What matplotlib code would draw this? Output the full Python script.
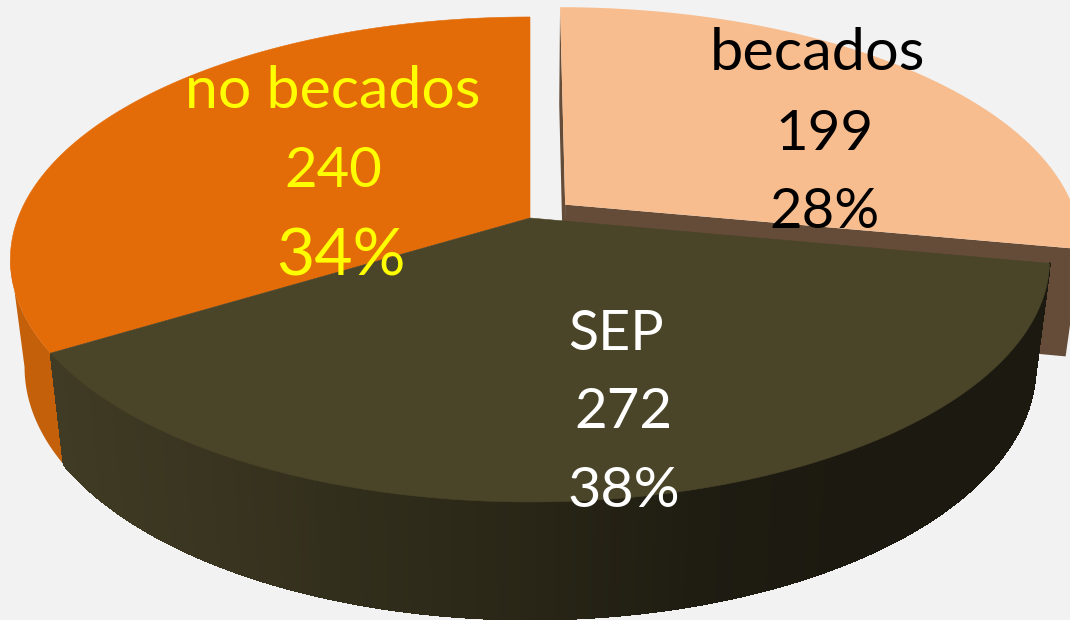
import numpy as np
import matplotlib
matplotlib.use("Agg")
import matplotlib.pyplot as plt
from matplotlib.collections import PolyCollection, LineCollection
from matplotlib.colors import to_rgb

categories = ["becados", "SEP", "no becados"]
values = [199, 272, 240]
percent_labels = ["28%", "38%", "34%"]

BG = "#f2f2f2"
TOP_COLORS = {"becados": "#f8bd8e", "SEP": "#4a4528", "no becados": "#e36c09"}
TEXT_COLORS = {"becados": "#000000", "SEP": "#ffffff", "no becados": "#ffff00"}

# perspective of the pie: k = foreshortening, (x0, y0, A, B) = top and bottom disc
K = 0.171
X0 = 530
TOP_DISC = dict(y0=218, A=512, B=235.4)
BOTTOM_DISC = dict(y0=324, A=498, B=245)
EXPLODE = 0.09
# the wall is seen up to the leftmost point of the projected disc
LAST_VISIBLE_WALL = 2 * np.pi - np.arccos(-K)


def project(theta, r, disc, dx=0.0, dy=0.0):
    X = r * np.sin(theta) + dx
    Y = r * np.cos(theta) + dy
    w = 1 + K * Y
    return np.column_stack([X0 + disc["A"] * X / w, disc["y0"] - disc["B"] * Y / w])


def lerp_grad(u, stops, colors):
    rgb = np.array([to_rgb(c) for c in colors])
    return np.column_stack([np.interp(u, stops, rgb[:, i]) for i in range(3)])


def wall_edges(t0, t1):
    hi = min(t1, LAST_VISIBLE_WALL)
    th = np.linspace(t0, hi, 260)
    return project(th, 1, TOP_DISC), project(th, 1, BOTTOM_DISC)


def solid_wall(ax, t0, t1, color, z):
    top, bot = wall_edges(t0, t1)
    pts = np.vstack([top, bot[::-1]])
    ax.fill(pts[:, 0], pts[:, 1], color=color, lw=0, zorder=z)


def gradient_wall(ax, t0, t1, grad, z):
    top, bot = wall_edges(t0, t1)
    quads = [np.vstack([top[i], top[i + 1], bot[i + 1], bot[i]]) for i in range(len(top) - 1)]
    cols = grad(top[:-1, 0])
    ax.add_collection(PolyCollection(quads, facecolors=cols, edgecolors=cols, linewidths=0.8,
                                     antialiaseds=False, zorder=z))
    # smooth outer rim
    segs = [np.vstack([bot[i], bot[i + 1]]) for i in range(len(top) - 1)]
    ax.add_collection(LineCollection(segs, colors=cols, linewidths=1.0, antialiaseds=True, zorder=z))


fig = plt.figure(figsize=(10.7, 6.2), dpi=100, facecolor=BG)
ax = fig.add_axes([0, 0, 1, 1])
ax.set_xlim(0, 1070)
ax.set_ylim(620, 0)
ax.axis("off")

total = sum(values)
edges = np.concatenate([[0], np.cumsum(values)]) / total * 2 * np.pi
spans = {c: (edges[i], edges[i + 1]) for i, c in enumerate(categories)}

# becados slice, pulled out along its bisector
t0, t1 = spans["becados"]
mid = (t0 + t1) / 2
dx, dy = EXPLODE * np.sin(mid), EXPLODE * np.cos(mid)
BROWN = "#644c39"
for t in (t0, t1):
    corners = np.vstack([
        project(np.array([t]), 0, TOP_DISC, dx, dy),
        project(np.array([t]), 1, TOP_DISC, dx, dy),
        project(np.array([t]), 1, BOTTOM_DISC, dx, dy),
        project(np.array([t]), 0, BOTTOM_DISC, dx, dy),
    ])
    ax.fill(corners[:, 0], corners[:, 1], color=BROWN, lw=0, zorder=1)
th = np.linspace(t0, t1, 200)
pts = np.vstack([project(np.array([t0]), 0, TOP_DISC, dx, dy), project(th, 1, TOP_DISC, dx, dy)])
ax.fill(pts[:, 0], pts[:, 1], color=TOP_COLORS["becados"], lw=0, zorder=2)

# remaining walls
t0, t1 = spans["no becados"]
solid_wall(ax, t0, t1, "#c5600a", 3)
t0, t1 = spans["SEP"]
gradient_wall(ax, t0, t1,
              lambda x: lerp_grad(x, [50, 200, 350, 530, 700, 850],
                                  ["#403b24", "#3a3520", "#312e1c", "#292617", "#1f1d12", "#1c1a10"]), 4)

# remaining tops
for c in ("no becados", "SEP"):
    t0, t1 = spans[c]
    th = np.linspace(t0, t1, 300)
    pts = np.vstack([project(np.array([t0]), 0, TOP_DISC), project(th, 1, TOP_DISC)])
    ax.fill(pts[:, 0], pts[:, 1], color=TOP_COLORS[c], lw=0.4, ec=TOP_COLORS[c], zorder=5)

# labels: one (x, baseline, size) per line
name_style = {"becados": (817, 70, 42.8), "SEP": (616, 350, 40), "no becados": (333, 108, 42.5)}
value_style = {"becados": (824, 150, 40.6), "SEP": (623, 428, 40.6), "no becados": (333, 187, 40.5)}
pct_style = {"becados": (825, 228, 40.4), "SEP": (624, 507, 41.4), "no becados": (341, 275, 47.5)}
for c, v, p in zip(categories, values, percent_labels):
    for s, (x, y, size) in ((c, name_style[c]), (str(v), value_style[c]), (p, pct_style[c])):
        ax.text(x, y, s, color=TEXT_COLORS[c], fontsize=size, family="Lato",
                ha="center", va="baseline", zorder=6)

fig.savefig("out.png", dpi=100, facecolor=BG)
